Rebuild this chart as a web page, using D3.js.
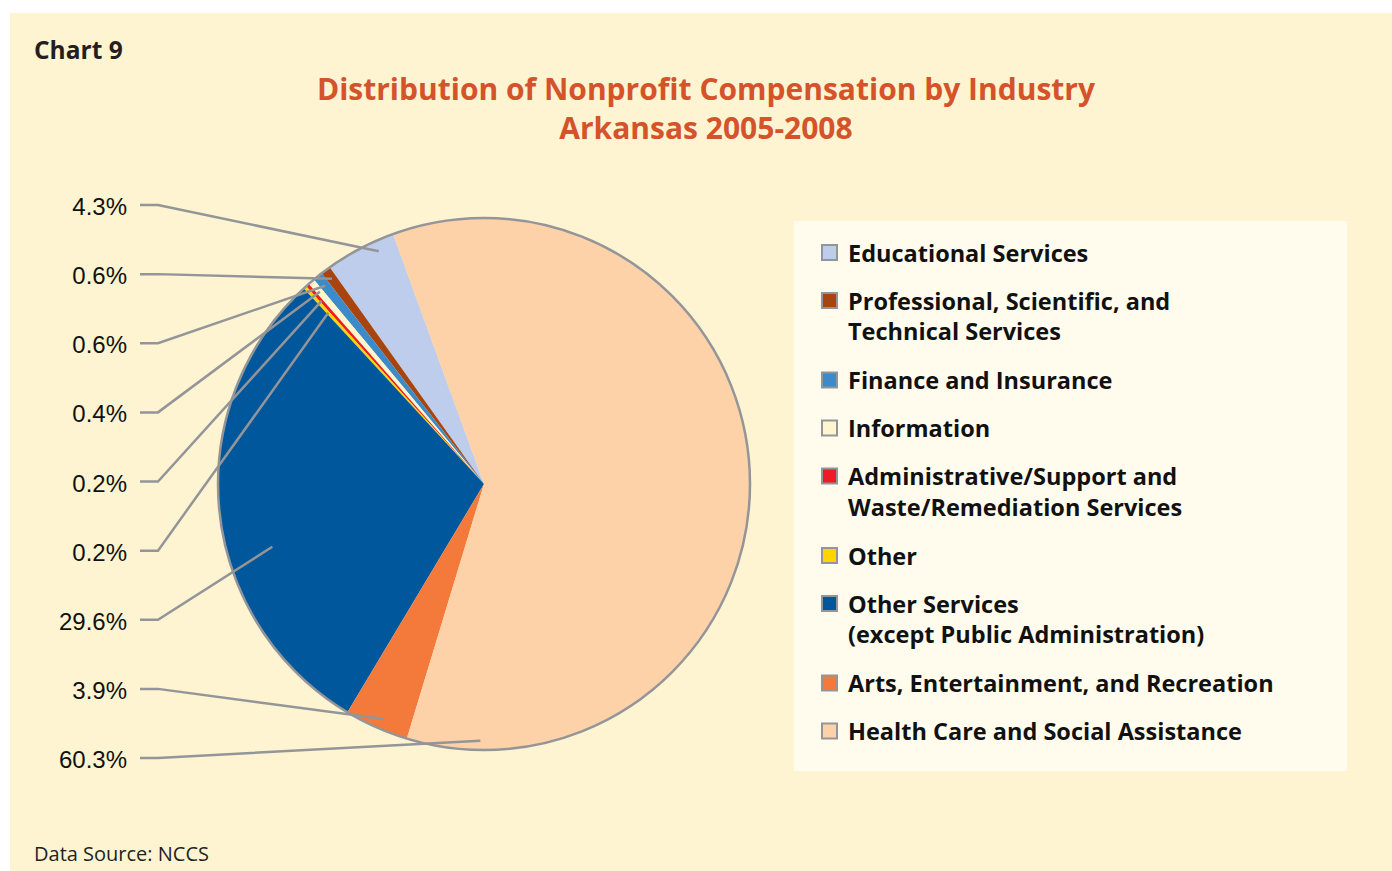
<!DOCTYPE html>
<html>
<head>
<meta charset="utf-8">
<script src="https://cdn.jsdelivr.net/npm/d3@7"></script>
<style>
  body { margin: 0; background: #fff; }
</style>
</head>
<body>
<svg width="1392" height="871"></svg>
<script>
// legend order (top to bottom), drawn counter-clockwise from the top
var categories = [
  ["Educational Services"],
  ["Professional, Scientific, and", "Technical Services"],
  ["Finance and Insurance"],
  ["Information"],
  ["Administrative/Support and", "Waste/Remediation Services"],
  ["Other"],
  ["Other Services", "(except Public Administration)"],
  ["Arts, Entertainment, and Recreation"],
  ["Health Care and Social Assistance"]
];
var shares = [4.3, 0.6, 0.6, 0.4, 0.2, 0.2, 29.6, 3.9, 60.3];
var pctLabels = ["4.3%", "0.6%", "0.6%", "0.4%", "0.2%", "0.2%", "29.6%", "3.9%", "60.3%"];
var colors = ["#BDCDEB", "#A8440F", "#3B8AC9", "#FFF6CF", "#ED1C24", "#FFD400", "#00579B", "#F47A3C", "#FDD2A8"];

// where each leader line touches its slice (fraction across slice, fraction of radius)
var leaderFrac = [0.72, 0.5, 0.5, 0.5, 0.5, 0.5, 0.40, 0.44, 0.926];
var leaderRad = [0.96, 0.96, 0.955, 0.95, 0.92, 0.87, 0.83, 0.96, 0.965];

var svg = d3.select("svg");

svg.append("rect")
   .attr("x", 10).attr("y", 13)
   .attr("width", 1382).attr("height", 858)
   .attr("fill", "#FEF4D2");

svg.append("text")
   .attr("x", 34).attr("y", 59)
   .attr("font-family", "Open Sans")
   .attr("font-weight", "bold")
   .attr("font-size", "24.5px")
   .attr("fill", "#231F20")
   .text("Chart 9");

var title = svg.append("text")
   .attr("text-anchor", "middle")
   .attr("font-family", "Open Sans")
   .attr("font-weight", "bold")
   .attr("font-size", "30px")
   .attr("fill", "#D4532A");
title.append("tspan").attr("x", 706).attr("y", 100).text("Distribution of Nonprofit Compensation by Industry");
title.append("tspan").attr("x", 706).attr("y", 139).text("Arkansas 2005-2008");

svg.append("text")
   .attr("x", 34).attr("y", 861)
   .attr("font-family", "Open Sans")
   .attr("font-size", "20px")
   .attr("fill", "#231F20")
   .text("Data Source: NCCS");

// pie
var cx = 484, cy = 484, radius = 266;
var a0 = -20 * Math.PI / 180;

var pie = d3.pie().sort(null)
    .startAngle(a0)
    .endAngle(a0 - 2 * Math.PI);
var arcs = pie(shares);
var arc = d3.arc().innerRadius(0).outerRadius(radius);

var g = svg.append("g").attr("transform", "translate(" + cx + "," + cy + ")");

g.selectAll(".slice")
 .data(arcs)
 .enter().append("path")
 .attr("class", "slice")
 .attr("d", arc)
 .attr("fill", function(d, i) { return colors[i]; });

g.append("circle")
 .attr("r", radius)
 .attr("fill", "none")
 .attr("stroke", "#939598")
 .attr("stroke-width", 2.5);

// labels on the left
var yLabel = d3.scalePoint()
    .domain(d3.range(shares.length))
    .range([206, 759]);

function anchor(d, i) {
  var lo = Math.min(d.startAngle, d.endAngle), hi = Math.max(d.startAngle, d.endAngle);
  var a = lo + leaderFrac[i] * (hi - lo);
  var r = leaderRad[i] * radius;
  return [cx + r * Math.sin(a), cy - r * Math.cos(a)];
}

svg.selectAll(".leader")
   .data(arcs)
   .enter().append("polyline")
   .attr("class", "leader")
   .attr("points", function(d, i) {
     var p = anchor(d, i), y = yLabel(i) - 1;
     return [[140, y], [158, y], p].map(function(q) { return q.join(","); }).join(" ");
   })
   .attr("fill", "none")
   .attr("stroke", "#939598")
   .attr("stroke-width", 2.5);

svg.selectAll(".pct")
   .data(pctLabels)
   .enter().append("text")
   .attr("class", "pct")
   .attr("x", 127)
   .attr("y", function(d, i) { return yLabel(i) + 9; })
   .attr("text-anchor", "end")
   .attr("font-family", "Liberation Sans, Arial, sans-serif")
   .attr("font-size", "24px")
   .attr("fill", "#111")
   .text(function(d) { return d; });

// legend
svg.append("rect")
   .attr("x", 794).attr("y", 221)
   .attr("width", 553).attr("height", 550)
   .attr("fill", "#FFFCEE");

var legendY = [];
var yy = 253;
categories.forEach(function(c) { legendY.push(yy); yy += 48 + 31.5 * (c.length - 1); });

var items = svg.selectAll(".legend")
   .data(categories)
   .enter().append("g")
   .attr("class", "legend")
   .attr("transform", function(d, i) { return "translate(0," + legendY[i] + ")"; });

items.append("rect")
   .attr("x", 822).attr("y", -8)
   .attr("width", 15).attr("height", 15)
   .attr("fill", function(d, i) { return colors[i]; })
   .attr("stroke", "#939598")
   .attr("stroke-width", 2);

items.each(function(d) {
  var t = d3.select(this).append("text")
     .attr("font-family", "Open Sans")
     .attr("font-weight", "bold")
     .attr("font-size", "23.5px")
     .attr("fill", "#111");
  d.forEach(function(line, k) {
    t.append("tspan").attr("x", 848).attr("y", 8.5 + k * 30.5).text(line);
  });
});
</script>
</body>
</html>
